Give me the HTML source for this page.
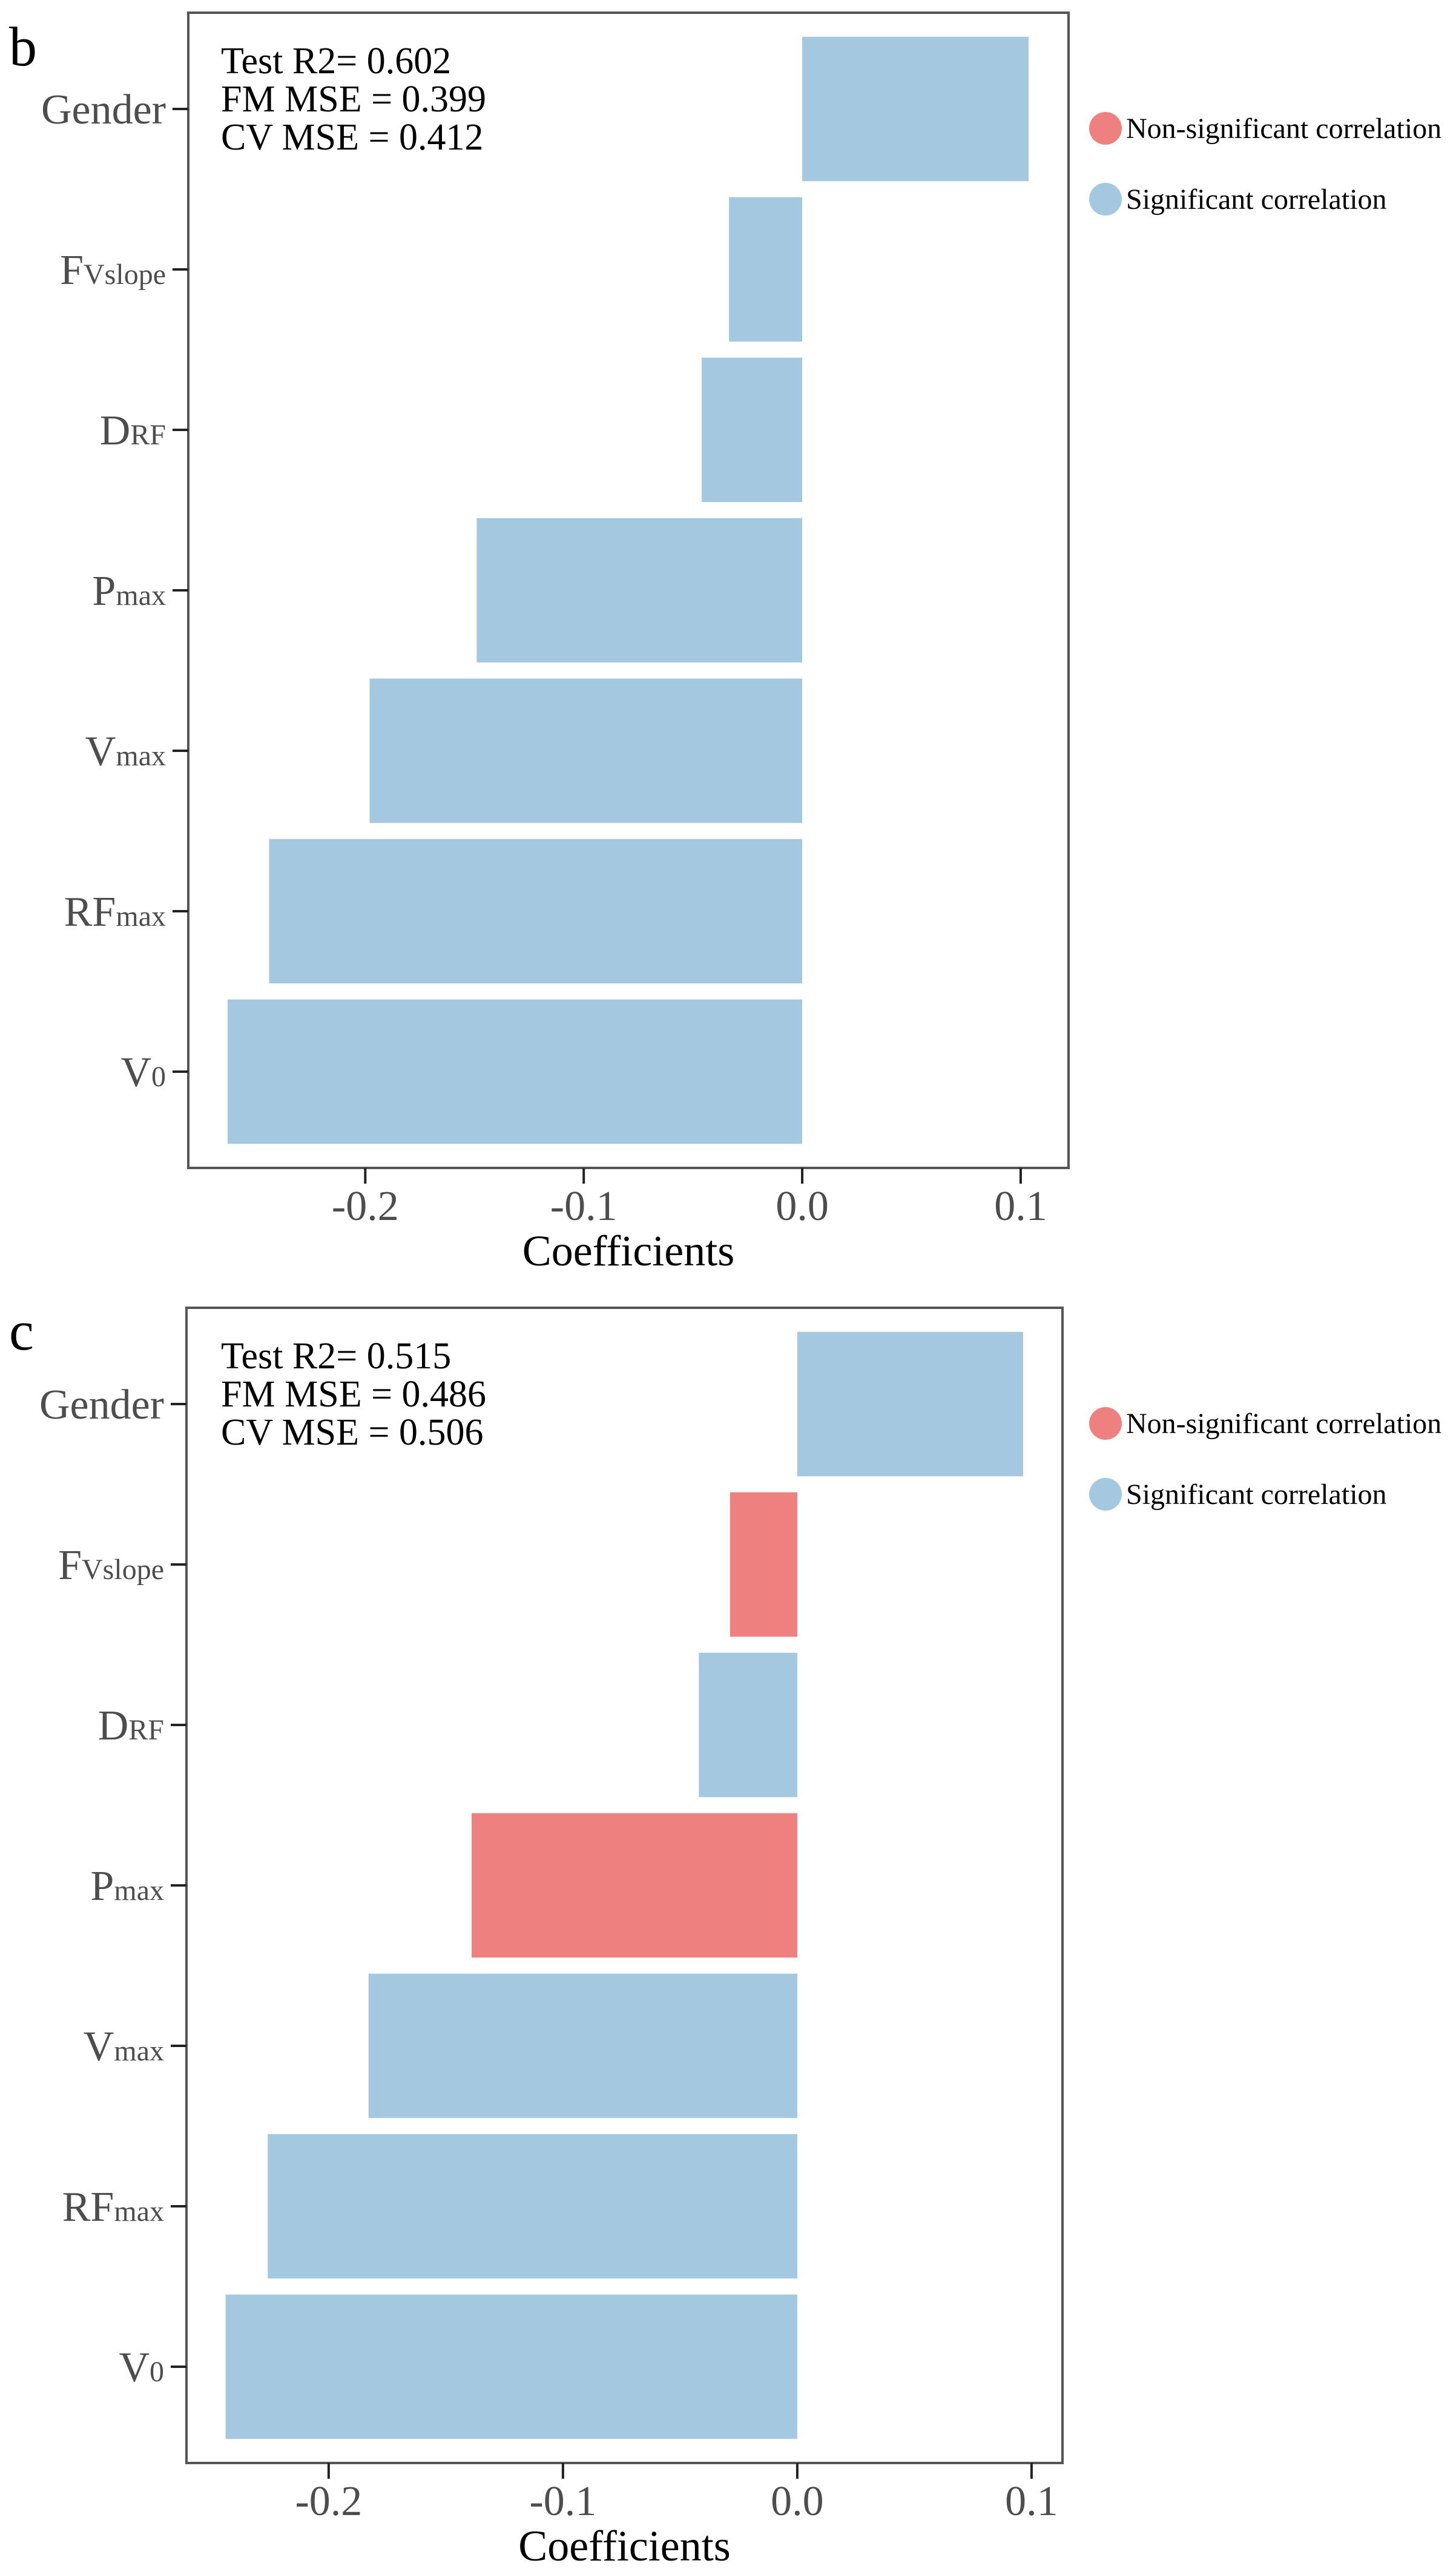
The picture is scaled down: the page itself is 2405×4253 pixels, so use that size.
<!DOCTYPE html>
<html><head><meta charset="utf-8"><style>
html,body{margin:0;padding:0;background:#fff;}
svg{display:block;font-family:"Liberation Serif",serif;}
</style></head><body>
<svg id="fig" width="2405" height="4253" viewBox="0 0 2405 4253" xmlns="http://www.w3.org/2000/svg"></svg>
<script>
const categories = ["Gender","FVslope","DRF","Pmax","Vmax","RFmax","V0"];
const valuesB = [0.1036,-0.0335,-0.046,-0.149,-0.198,-0.244,-0.263];
const valuesC = [0.0964,-0.0287,-0.042,-0.139,-0.183,-0.226,-0.244];
const sigB = [true,true,true,true,true,true,true];
const sigC = [true,false,true,false,true,true,true];
const xTicks = [-0.2,-0.1,0.0,0.1];
const xTickLabels = ["-0.2","-0.1","0.0","0.1"];
const statsB = ["Test R2= 0.602","FM MSE = 0.399","CV MSE = 0.412"];
const statsC = ["Test R2= 0.515","FM MSE = 0.486","CV MSE = 0.506"];
const labelMain = ["Gender","F","D","P","V","RF","V"];
const labelSub = ["","Vslope","RF","max","max","max","0"];

const NS="http://www.w3.org/2000/svg";
const svg=document.getElementById('fig');
function mk(tag,attrs,parent){const e=document.createElementNS(NS,tag);for(const k in attrs)e.setAttribute(k,attrs[k]);(parent||svg).appendChild(e);return e;}
const BLUE="#a3c8df", RED="#ef8080";

function panel(letter,oy,left,right,xmin,xmax,vals,sig,stats){
  const g=mk('g',{});
  
  
  const top=oy+21, bottom=oy+1929;
  const xs=v=>left+(v-xmin)/(xmax-xmin)*(right-left);
  const step=(bottom-top)/(categories.length-1+1.2);
  const ys=i=>top+0.6*step+i*step;
  const bh=step*0.9;
  const r=mk('rect',{x:left,y:top,width:right-left,height:bottom-top,fill:"#fff",stroke:"#555","stroke-width":4},g);
  
  
  vals.forEach((v,i)=>{
    const x0=xs(0),x1=xs(v);
    const b=mk('rect',{x:Math.min(x0,x1),y:ys(i)-bh/2,width:Math.abs(x1-x0),height:bh,fill:sig[i]?BLUE:RED},g);
    
    
    mk('line',{x1:left-26,x2:left,y1:ys(i),y2:ys(i),stroke:"#222","stroke-width":4},g);
    const t=mk('text',{x:left-37,y:ys(i)+24,"text-anchor":"end",fill:"#4d4d4d","font-size":70},g);
    
    
    const a=mk('tspan',{},t);a.textContent=labelMain[i];
    if(labelSub[i]){const s=mk('tspan',{"font-size":48},t);s.textContent=labelSub[i];}
  });
  xTicks.forEach((v,i)=>{
    mk('line',{x1:xs(v),x2:xs(v),y1:bottom,y2:bottom+26,stroke:"#222","stroke-width":4},g);
    const t=mk('text',{x:xs(v),y:bottom+86,"text-anchor":"middle",fill:"#4d4d4d","font-size":70},g);
    
    
    t.textContent=xTickLabels[i];
  });
  const xt=mk('text',{x:(left+right)/2,y:oy+2090,"text-anchor":"middle",fill:"#000","font-size":72},g);
  
  
  xt.textContent="Coefficients";
  stats.forEach((s,i)=>{
    const t=mk('text',{x:365,y:oy+121+i*63,fill:"#000","font-size":62},g);
    
    
    t.textContent=s;
  });
  const lt=mk('text',{x:15,y:oy+(letter==='b'?108:90),fill:"#000","font-size":92},g);
  
  
  lt.textContent=letter;
  const leg=[["Non-significant correlation",RED,212],["Significant correlation",BLUE,329]];
  leg.forEach(l=>{
    const c=mk('circle',{cx:1826,cy:oy+l[2],r:27,fill:l[1]},g);
    
    
    const t=mk('text',{x:1860,y:oy+l[2]+16,fill:"#000","font-size":48},g);
    
    
    t.textContent=l[0];
  });
}
panel('b',0,311,1765,-0.281,0.1219,valuesB,sigB,statsB);
panel('c',2139,308,1755,-0.2607,0.1132,valuesC,sigC,statsC);
</script>
</body></html>
